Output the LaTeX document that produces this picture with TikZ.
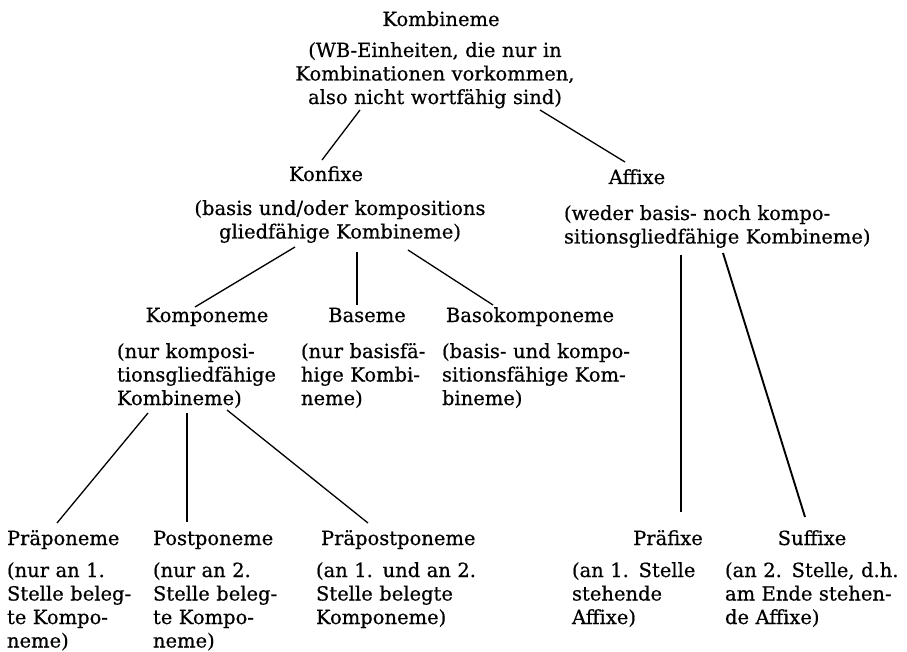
\documentclass[tikz,border=0pt]{standalone}
\usepackage{fontspec}
\setmainfont[FakeBold=0.6]{DejaVu Serif}
\usetikzlibrary{calc}
\tikzset{
  txt/.style={inner sep=0pt, outer sep=0pt, font=\fontsize{19.5}{23.5}\selectfont},
  ttl/.style={txt, anchor=base},
  ttlw/.style={txt, anchor=base west},
  dscc/.style={txt, text width=330pt, align=center, anchor=base},
  dscl/.style={txt, text width=400pt, align=left, anchor=base west},
  conn/.style={line width=1.3pt},
  connthick/.style={line width=1.9pt}
}
\begin{document}
\begin{tikzpicture}[x=1pt,y=-1pt]
\useasboundingbox (0,0) rectangle (907,652);
% level 0
\node[ttl] (kombineme) at (441,26) {Kombineme};
\node[dscc] (kombdesc) at (435,57) {(WB-Einheiten, die nur in\\Kombinationen vorkommen,\\also nicht wortfähig sind)};
% level 1
\node[ttl] (konfixe) at (326,181) {Konfixe};
\node[dscc] (konfdesc) at (340,215) {(basis und/oder kompositions\\gliedfähige Kombineme)};
\node[ttl] (affixe) at (637,184) {Affixe};
\node[dscl] (affdesc) at (564,220) {(weder basis- noch kompo-\\sitionsgliedfähige Kombineme)};
% level 2
\node[ttl] (komponeme) at (207,322) {Komponeme};
\node[dscl] (kompdesc) at (117,358) {(nur komposi-\\tionsgliedfähige\\Kombineme)};
\node[ttl] (baseme) at (367,322) {Baseme};
\node[dscl] (basdesc) at (301,358) {(nur basisfä-\\hige Kombi-\\neme)};
\node[ttl] (basokomp) at (530,322) {Basokomponeme};
\node[dscl] (basokdesc) at (442,358) {(basis- und kompo-\\sitionsfähige Kom-\\bineme)};
% level 3
\node[ttlw] (praep) at (7,545) {Präponeme};
\node[dscl] (praepdesc) at (7,577) {(nur an 1.\\Stelle beleg-\\te Kompo-\\neme)};
\node[ttlw] (postp) at (153,545) {Postponeme};
\node[dscl] (postpdesc) at (153,577) {(nur an 2.\\Stelle beleg-\\te Kompo-\\neme)};
\node[ttlw] (praepost) at (321,545) {Präpostponeme};
\node[dscl] (praepostdesc) at (316,577) {(an 1. und an 2.\\Stelle belegte\\Komponeme)};
\node[ttl] (praef) at (668,545) {Präfixe};
\node[dscl] (praefdesc) at (572,577) {(an 1. Stelle\\stehende\\Affixe)};
\node[ttl] (suff) at (812,545) {Suffixe};
\node[dscl] (suffdesc) at (725,577) {(an 2. Stelle, d.h.\\am Ende stehen-\\de Affixe)};
% connectors
\draw[conn] ($(kombdesc.base)+(-75,53)$) -- ($(konfixe.base)+(-4,-21)$);
\draw[conn] ($(kombdesc.base)+(105,53)$) -- ($(affixe.base)+(-12,-22)$);
\draw[conn] ($(konfdesc.base)+(-45,32)$) -- ($(komponeme.base)+(-12,-15)$);
\draw[conn] ($(konfdesc.base)+(17,37)$) -- ($(baseme.base)+(-10,-17)$);
\draw[conn] ($(konfdesc.base)+(68,35)$) -- ($(basokomp.base)+(-37,-17)$);
\draw[conn] ($(affdesc.base west)+(117,35)$) -- ($(praef.base)+(13,-33)$);
\draw[connthick] ($(affdesc.base west)+(159,33)$) -- ($(suff.base)+(-7,-28)$);
\draw[conn] ($(kompdesc.base west)+(31,55)$) -- ($(praep.base west)+(50,-22)$);
\draw[conn] ($(kompdesc.base west)+(70,55)$) -- ($(postp.base west)+(34,-23)$);
\draw[conn] ($(kompdesc.base west)+(110,52)$) -- ($(praepost.base west)+(47,-22)$);
\end{tikzpicture}
\end{document}
